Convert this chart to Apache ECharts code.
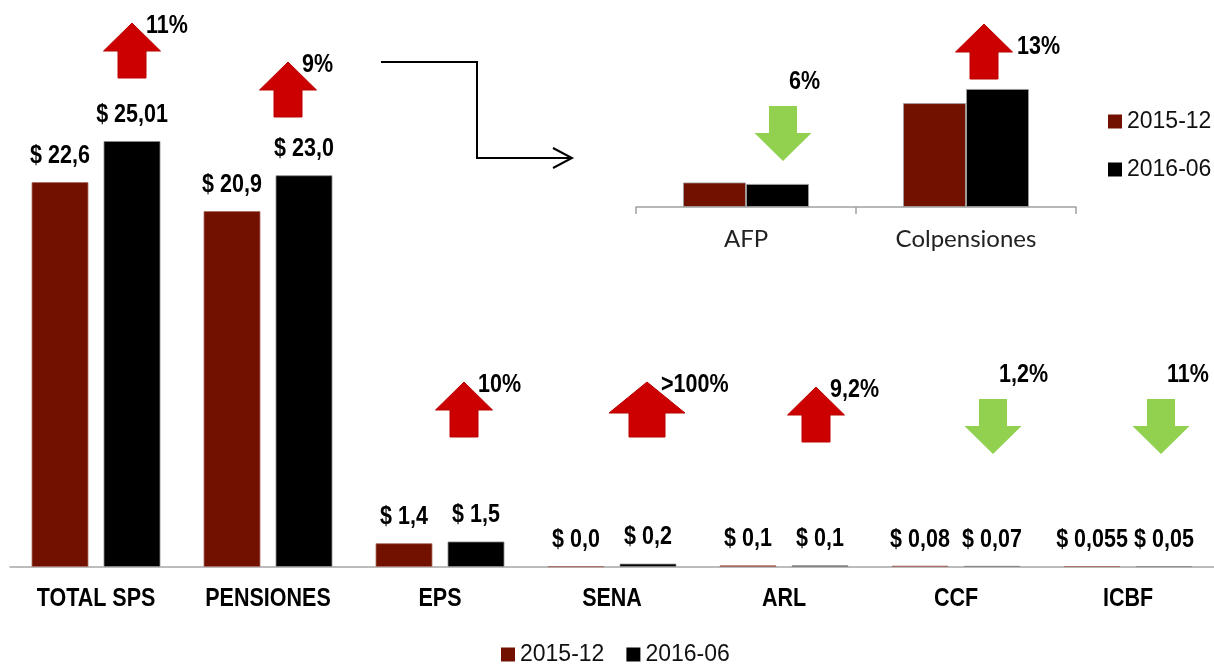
<!DOCTYPE html>
<html>
<head>
<meta charset="utf-8">
<script src="https://cdn.jsdelivr.net/npm/echarts@6/dist/echarts.min.js"></script>
<style>
  html, body { margin: 0; padding: 0; background: #fff; }
  #chart { width: 1214px; height: 666px; }
</style>
</head>
<body>
<div id="chart"></div>
<script>
// main chart data
const categories = ['TOTAL SPS', 'PENSIONES', 'EPS', 'SENA', 'ARL', 'CCF', 'ICBF'];
const values2015 = [22.6, 20.9, 1.4, 0.04, 0.1, 0.08, 0.055];
const values2016 = [25.01, 23.0, 1.5, 0.2, 0.1, 0.07, 0.05];
const decimals2015 = [1, 1, 1, 1, 1, 2, 3];
const decimals2016 = [2, 1, 1, 1, 1, 2, 2];
const changeText = ['11%', '9%', '10%', '>100%', '9,2%', '1,2%', '11%'];
const changeDir = ['up', 'up', 'up', 'up', 'up', 'down', 'down'];

// pensions breakdown (inset)
const pensionCategories = ['AFP', 'Colpensiones'];
const pension2015 = [4.0, 16.9];
const pension2016 = [3.76, 19.2];
const pensionChangeText = ['6%', '13%'];
const pensionChangeDir = ['down', 'up'];

const seriesNames = ['2015-12', '2016-06'];

const RED = '#731100';
const BLACK = '#000000';
const SANS = '"Liberation Sans", Arial, sans-serif';
const NARROW = 0.86; // Arial Narrow look: Arial squeezed horizontally
const BAR_W = 57;
const BAR_GAP = 15;

// where the change arrows sit (px, relative to category centre)
const mainArrowLayout = [
  { dx: 36, top: 23 },
  { dx: 20, top: 62 },
  { dx: 24, top: 382 },
  { dx: 35, top: 382, w: 76, shaft: 36, head: 31 },
  { dx: 32, top: 387 },
  { dx: 37, top: 399 },
  { dx: 33, top: 399 }
];
const pensionArrowLayout = [
  { dx: 37, top: 106 },
  { dx: 18, top: 24, ldx: 33, ldy: 23 }
];

function money(v, d) {
  return '$ ' + v.toFixed(d).replace('.', ',');
}

const chart = echarts.init(document.getElementById('chart'));

const legendText = { fontFamily: SANS, fontSize: 23, color: '#111' };

chart.setOption({
  animation: false,
  grid: [
    { left: 10, width: 1204, top: 56, bottom: 99 },
    { left: 636, width: 440, top: 84, height: 123 }
  ],
  legend: [
    {
      data: seriesNames,
      left: 501,
      top: 643,
      padding: 0,
      itemWidth: 14,
      itemHeight: 14,
      itemGap: 22,
      icon: 'rect',
      itemStyle: { borderWidth: 0 },
      textStyle: legendText
    },
    {
      data: seriesNames,
      orient: 'vertical',
      left: 1108,
      top: 110,
      padding: 0,
      itemWidth: 14,
      itemHeight: 14,
      itemGap: 25,
      icon: 'rect',
      itemStyle: { borderWidth: 0 },
      textStyle: legendText
    }
  ],
  xAxis: [
    {
      type: 'category',
      gridIndex: 0,
      data: categories,
      axisLine: { lineStyle: { color: '#a6a6a6', width: 1.5 } },
      axisTick: { show: false },
      axisLabel: { show: false }
    },
    {
      type: 'category',
      gridIndex: 1,
      data: pensionCategories,
      axisLine: { lineStyle: { color: '#a0a0a0', width: 1.5 } },
      axisTick: { show: true, length: 7, lineStyle: { color: '#a0a0a0', width: 1.5 } },
      axisLabel: {
        interval: 0,
        margin: 20,
        fontFamily: 'Lato, "Open Sans", sans-serif',
        fontSize: 24,
        color: '#222'
      }
    }
  ],
  yAxis: [
    { type: 'value', gridIndex: 0, min: 0, max: 30, show: false },
    { type: 'value', gridIndex: 1, min: 0, max: 20, show: false }
  ],
  series: [
    {
      name: seriesNames[0],
      type: 'bar',
      xAxisIndex: 0,
      yAxisIndex: 0,
      data: values2015,
      barWidth: BAR_W,
      barGap: (BAR_GAP / BAR_W * 100) + '%',
      itemStyle: { color: RED, borderColor: 'rgba(170,110,100,0.8)', borderWidth: 1 }
    },
    {
      name: seriesNames[1],
      type: 'bar',
      xAxisIndex: 0,
      yAxisIndex: 0,
      data: values2016,
      barWidth: BAR_W,
      itemStyle: { color: BLACK, borderColor: 'rgba(140,140,140,0.8)', borderWidth: 1 }
    },
    {
      name: seriesNames[0],
      type: 'bar',
      xAxisIndex: 1,
      yAxisIndex: 1,
      data: pension2015,
      barWidth: 63,
      barGap: '0%',
      itemStyle: { color: RED, borderColor: 'rgba(160,160,160,0.8)', borderWidth: 1 }
    },
    {
      name: seriesNames[1],
      type: 'bar',
      xAxisIndex: 1,
      yAxisIndex: 1,
      data: pension2016,
      barWidth: 63,
      itemStyle: { color: BLACK, borderColor: 'rgba(160,160,160,0.8)', borderWidth: 1 }
    }
  ]
});

// bold narrow text (Arial Narrow Bold stand-in)
function narrowText(x, y, text, align) {
  return {
    type: 'text',
    x: x,
    y: y,
    scaleX: NARROW,
    style: {
      text: text,
      fontFamily: SANS,
      fontWeight: 'bold',
      fontSize: 25,
      fill: '#000',
      align: align,
      verticalAlign: 'middle'
    },
    z: 11
  };
}

// arrow shape as polygon points
function arrowPoints(cx, top, dir, w, s, head, h) {
  const hw = w / 2, hs = s / 2;
  if (dir === 'up') {
    return [[cx, top], [cx + hw, top + head], [cx + hs, top + head], [cx + hs, top + h],
            [cx - hs, top + h], [cx - hs, top + head], [cx - hw, top + head]];
  }
  const b = top + h;
  return [[cx, b], [cx + hw, b - head], [cx + hs, b - head], [cx + hs, top],
          [cx - hs, top], [cx - hs, b - head], [cx - hw, b - head]];
}

function buildArrows(axisIndex, layout, dirs, texts) {
  const out = [];
  layout.forEach((a, i) => {
    const cx = chart.convertToPixel({ xAxisIndex: axisIndex }, i) + a.dx;
    const up = dirs[i] === 'up';
    const w = a.w || 57, s = a.shaft || 28, head = a.head || 28, h = 55;
    out.push({
      type: 'polygon',
      shape: { points: arrowPoints(cx, a.top, dirs[i], w, s, head, h) },
      style: up ? { fill: '#cc0000', stroke: '#b80000', lineWidth: 1 }
                : { fill: '#92d050', stroke: '#92d050', lineWidth: 0 },
      z: 10
    });
    const ldx = a.ldx !== undefined ? a.ldx : (up ? 14 : 6);
    const ldy = a.ldy !== undefined ? a.ldy : (up ? 3 : -24);
    out.push(narrowText(cx + ldx, a.top + ldy, texts[i], 'left'));
  });
  return out;
}

const graphics = [];

// value labels above the bars and category labels below the axis
const half = (BAR_W + BAR_GAP) / 2;
[values2015, values2016].forEach((vals, k) => {
  const decs = k === 0 ? decimals2015 : decimals2016;
  vals.forEach((v, i) => {
    const p = chart.convertToPixel({ xAxisIndex: 0, yAxisIndex: 0 }, [i, v]);
    const x = p[0] + (k === 0 ? -half : half);
    graphics.push(narrowText(x, p[1] - 26, money(v, decs[i]), 'center'));
  });
});
categories.forEach((c, i) => {
  const p = chart.convertToPixel({ xAxisIndex: 0, yAxisIndex: 0 }, [i, 0]);
  graphics.push(narrowText(p[0], p[1] + 32, c, 'center'));
});

graphics.push.apply(graphics, buildArrows(0, mainArrowLayout, changeDir, changeText));
graphics.push.apply(graphics, buildArrows(1, pensionArrowLayout, pensionChangeDir, pensionChangeText));

// connector from PENSIONES to the breakdown
graphics.push({
  type: 'polyline',
  shape: { points: [[381, 62], [477, 62], [477, 158], [572, 158]] },
  style: { stroke: '#000', lineWidth: 2, fill: null }
});
graphics.push({
  type: 'polyline',
  shape: { points: [[553, 148], [572, 158], [553, 168]] },
  style: { stroke: '#000', lineWidth: 2, fill: null }
});

chart.setOption({ graphic: graphics });
</script>
</body>
</html>
